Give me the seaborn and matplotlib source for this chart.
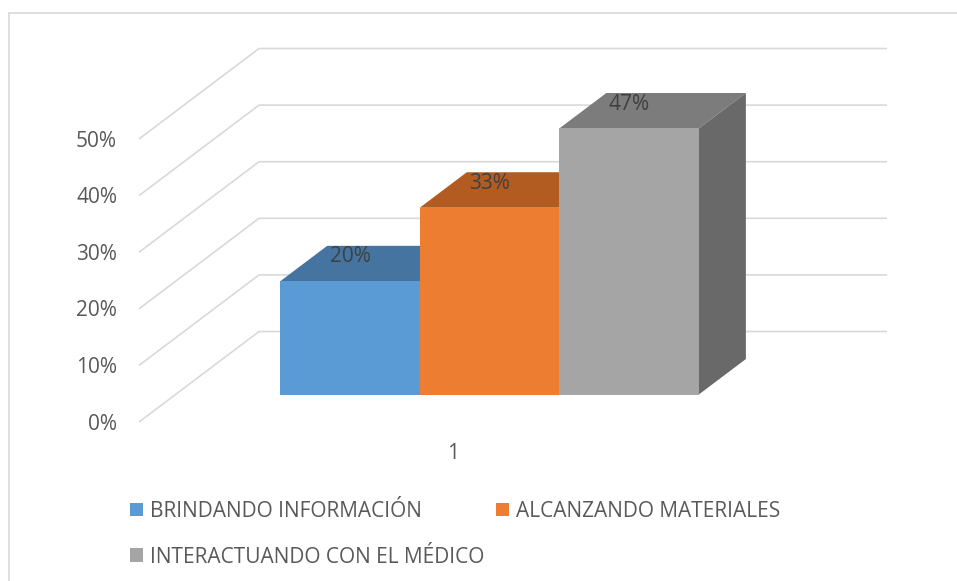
import numpy as np
import pandas as pd
import matplotlib
matplotlib.use("Agg")
import matplotlib.pyplot as plt
import matplotlib.transforms as mtransforms
from matplotlib.patches import Polygon, Patch
from matplotlib.lines import Line2D
import seaborn as sns

# ---- data ----
categories = ["1"]
series = ["BRINDANDO INFORMACIÓN", "ALCANZANDO MATERIALES", "INTERACTUANDO CON EL MÉDICO"]
values = [20, 33, 47]
value_labels = ["20%", "33%", "47%"]
ytick_values = [0, 10, 20, 30, 40, 50]
ytick_labels = ["0%", "10%", "20%", "30%", "40%", "50%"]

# ---- style ----
front_colors = ["#5B9BD5", "#ED7D31", "#A5A5A5"]
top_colors = ["#44749F", "#B25C21", "#7C7C7C"]
side_colors = ["#3A6390", "#9E4F1C", "#696969"]
grid_color = "#D9D9D9"
text_color = "#595959"
label_color = "#404040"
FS = 15

sns.set_style("white")
plt.rcParams["font.family"] = ["Open Sans", "DejaVu Sans"]

W, H, DPI = 957, 581, 100
fig = plt.figure(figsize=(W / DPI, H / DPI), dpi=DPI)
ax = fig.add_axes([0, 0, 1, 1])

# oblique projection (data units)
px_per_x = 628.0
px_per_y = 5.66
x0_px, y0_px = 489.5, 394.5
Dx = 120 / px_per_x
Dy = 90.5 / px_per_y
z0 = 0.304
bar_depth = 0.392


def P(x, y, z):
    return x + (z - z0) * Dx, y + (z - z0) * Dy


df = pd.DataFrame({"cat": categories * len(series), "serie": series, "value": values})
sns.barplot(data=df, x="cat", y="value", hue="serie", hue_order=series,
            palette=front_colors, width=2 / 3, saturation=1, legend=False,
            errorbar=None, ax=ax, linewidth=0)

ax.set_xlim(-x0_px / px_per_x, (W - x0_px) / px_per_x)
ax.set_ylim(-(H - y0_px) / px_per_y, y0_px / px_per_y)
ax.axis("off")

# walls gridlines
for v in ytick_values:
    xa, ya = P(-0.5, v, 0)
    xb, yb = P(-0.5, v, 1)
    xc, yc = P(0.5, v, 1)
    ax.plot([xa, xb, xc], [ya, yb, yc], color=grid_color, lw=1.2, zorder=1,
            solid_capstyle="butt")

# 3D faces
bd_x, bd_y = bar_depth * Dx, bar_depth * Dy
for i, patch in enumerate(ax.patches[:len(values)]):
    xl = patch.get_x()
    w = patch.get_width()
    h = patch.get_height()
    patch.set_zorder(3 + i)
    top = Polygon([(xl, h), (xl + w, h), (xl + w + bd_x, h + bd_y), (xl + bd_x, h + bd_y)],
                  closed=True, facecolor=top_colors[i], edgecolor="none", zorder=2.5 + i)
    side = Polygon([(xl + w, 0), (xl + w, h), (xl + w + bd_x, h + bd_y), (xl + w + bd_x, bd_y)],
                   closed=True, facecolor=side_colors[i], edgecolor="none", zorder=2.5 + i)
    ax.add_patch(top)
    ax.add_patch(side)
    ax.text(xl + w / 2, h + 0.27 * Dy, value_labels[i], ha="center", va="center",
            color=label_color, fontsize=FS, zorder=20)

# value axis labels
tr_y = mtransforms.offset_copy(ax.transData, fig=fig, x=-22, y=-2, units="dots")
for v, lab in zip(ytick_values, ytick_labels):
    xa, ya = P(-0.5, v, 0)
    ax.text(xa, ya, lab, transform=tr_y, ha="right", va="center",
            color=text_color, fontsize=FS)

# category label
tr_c = mtransforms.offset_copy(ax.transData, fig=fig, x=0, y=-31, units="dots")
xc, yc = P(0, 0, 0)
ax.text(xc, yc, categories[0], transform=tr_c, ha="center", va="center",
        color=text_color, fontsize=FS)

# chart border (partially cropped)
fig.add_artist(Line2D([9 / W, 9 / W], [0, 1 - 13 / H], transform=fig.transFigure,
                      color=grid_color, lw=1.2))
fig.add_artist(Line2D([9 / W, 1], [1 - 13 / H, 1 - 13 / H], transform=fig.transFigure,
                      color=grid_color, lw=1.2))

# legend
handles = [Patch(facecolor=c, edgecolor="none", label=s) for c, s in zip(front_colors, series)]
leg = fig.legend(handles=[handles[0], handles[2], handles[1]], ncol=2, loc="upper left",
                 bbox_to_anchor=(130 / W, 1 - 501 / H), frameon=False, fontsize=FS,
                 handlelength=0.63, handleheight=0.63, handletextpad=0.33,
                 columnspacing=0.55, labelspacing=1.18, borderpad=0, borderaxespad=0)
for t in leg.get_texts():
    t.set_color(text_color)

fig.savefig("out.png", dpi=DPI)
